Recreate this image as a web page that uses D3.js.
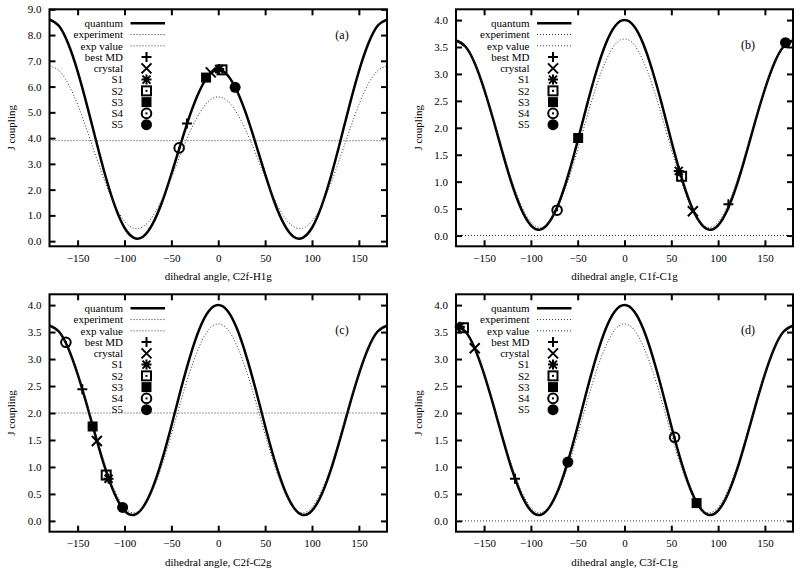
<!DOCTYPE html>
<html><head><meta charset="utf-8">
<script src="https://cdn.jsdelivr.net/npm/d3@7"></script>
<style>
body{margin:0;background:#fff}
svg{display:block}
text{font-family:"Liberation Serif","Times New Roman",serif;fill:#000}
</style>
</head><body>
<svg id="c" width="800" height="571"></svg>
<script>
// ---------- data ----------
const angles = [-180,-170,-160,-150,-140,-130,-120,-110,-100,-90,-80,-70,-60,-50,-40,-30,-20,-10,0,10,20,30,40,50,60,70,80,90,100,110,120,130,140,150,160,170,180];

const quantumA = [8.60,8.36,7.66,6.59,5.27,3.85,2.49,1.34,0.52,0.13,0.18,0.67,1.51,2.60,3.78,4.91,5.83,6.44,6.65,6.44,5.83,4.91,3.78,2.60,1.51,0.67,0.18,0.13,0.52,1.34,2.49,3.85,5.27,6.59,7.66,8.36,8.60];
const experimentA = [6.80,6.62,6.10,5.30,4.30,3.24,2.23,1.37,0.78,0.50,0.57,0.96,1.63,2.47,3.39,4.26,4.97,5.44,5.60,5.44,4.97,4.26,3.39,2.47,1.63,0.96,0.57,0.50,0.78,1.37,2.23,3.24,4.30,5.30,6.10,6.62,6.80];
const quantumBCD = [3.62,3.51,3.20,2.72,2.14,1.52,0.94,0.48,0.19,0.11,0.26,0.61,1.13,1.76,2.43,3.05,3.56,3.89,4.00,3.89,3.56,3.05,2.43,1.76,1.13,0.61,0.26,0.11,0.19,0.48,0.94,1.52,2.14,2.72,3.20,3.51,3.62];
const experimentBCD = [3.60,3.50,3.20,2.74,2.17,1.57,1.01,0.55,0.25,0.15,0.26,0.57,1.03,1.60,2.21,2.78,3.24,3.55,3.65,3.55,3.24,2.78,2.21,1.60,1.03,0.57,0.26,0.15,0.25,0.55,1.01,1.57,2.17,2.74,3.20,3.50,3.60];

const expValues = [3.9, 0.0, 2.0, 0.0];

// markers per panel (a, b, c, d): [angle, J]
const bestMD  = [[-33.4,4.57],[111,0.58],[-145,2.44],[-117,0.78]];
const crystal = [[-8,6.55],[73,0.45],[-129.5,1.48],[-160,3.2]];
const S1 = [[1,6.68],[58,1.2],[-117,0.78],[-176,3.6]];
const S2 = [[4,6.65],[61,1.1],[-119.5,0.85],[-172,3.58]];
const S3 = [[-13,6.35],[-49.5,1.81],[-134,1.75],[77,0.33]];
const S4 = [[-41.7,3.62],[-72,0.47],[-162.5,3.31],[53.5,1.55]];
const S5 = [[18,5.97],[172,3.58],[-102,0.25],[-60.5,1.09]];

const xTicks = [-150,-100,-50,0,50,100,150];
const yTicksA = [0,1,2,3,4,5,6,7,8,9];
const yTicksBCD = [0,0.5,1,1.5,2,2.5,3,3.5,4];
const xLabels = ["dihedral angle, C2f-H1g","dihedral angle, C1f-C1g","dihedral angle, C2f-C2g","dihedral angle, C3f-C1g"];
const panelTags = ["(a)","(b)","(c)","(d)"];
const legendNames = ["quantum","experiment","exp value","best MD","crystal","S1","S2","S3","S4","S5"];

// ---------- layout ----------
const svg = d3.select("#c");
const layout = [
  {x0:49.5, x1:387, y0:9.3, y1:246.3, yDom:[-0.2,9.0], yT:yTicksA, q:quantumA, e:experimentA, tag:[132,8.0]},
  {x0:456, x1:793, y0:9.3, y1:246.3, yDom:[-0.2,4.2], yT:yTicksBCD, q:quantumBCD, e:experimentBCD, tag:[132,3.55]},
  {x0:49.5, x1:387, y0:294.3, y1:531.7, yDom:[-0.2,4.2], yT:yTicksBCD, q:quantumBCD, e:experimentBCD, tag:[132,3.55]},
  {x0:456, x1:793, y0:294.3, y1:531.7, yDom:[-0.2,4.2], yT:yTicksBCD, q:quantumBCD, e:experimentBCD, tag:[132,3.55]}
];

const markerSeries = [
  {name:"plus", data:bestMD},
  {name:"cross", data:crystal},
  {name:"star", data:S1},
  {name:"osq", data:S2},
  {name:"fsq", data:S3},
  {name:"ocirc", data:S4},
  {name:"fcirc", data:S5}
];

function drawMarker(g, type, cx, cy){
  const s = 5;
  if(type==="plus"){
    g.append("path").attr("d",`M${cx-s},${cy}H${cx+s}M${cx},${cy-s}V${cy+s}`).attr("stroke","#000").attr("stroke-width",2).attr("fill","none");
  } else if(type==="cross"){
    g.append("path").attr("d",`M${cx-s},${cy-s}L${cx+s},${cy+s}M${cx-s},${cy+s}L${cx+s},${cy-s}`).attr("stroke","#000").attr("stroke-width",2).attr("fill","none");
  } else if(type==="star"){
    const t=4;
    g.append("path").attr("d",`M${cx-s},${cy}H${cx+s}M${cx},${cy-s}V${cy+s}M${cx-t},${cy-t}L${cx+t},${cy+t}M${cx-t},${cy+t}L${cx+t},${cy-t}`).attr("stroke","#000").attr("stroke-width",2).attr("fill","none");
  } else if(type==="osq"){
    g.append("rect").attr("x",cx-4.5).attr("y",cy-4.5).attr("width",9).attr("height",9).attr("fill","none").attr("stroke","#000").attr("stroke-width",2);
    g.append("rect").attr("x",cx-1).attr("y",cy-1).attr("width",2).attr("height",2).attr("fill","#000");
  } else if(type==="fsq"){
    g.append("rect").attr("x",cx-5).attr("y",cy-5).attr("width",10).attr("height",10).attr("fill","#000");
  } else if(type==="ocirc"){
    g.append("circle").attr("cx",cx).attr("cy",cy).attr("r",4.8).attr("fill","none").attr("stroke","#000").attr("stroke-width",2);
    g.append("rect").attr("x",cx-1).attr("y",cy-1).attr("width",2).attr("height",2).attr("fill","#000");
  } else if(type==="fcirc"){
    g.append("circle").attr("cx",cx).attr("cy",cy).attr("r",5.5).attr("fill","#000");
  }
}

layout.forEach((P, pi) => {
  const x = d3.scaleLinear().domain([-180,180]).range([P.x0,P.x1]);
  const y = d3.scaleLinear().domain(P.yDom).range([P.y1,P.y0]);
  const g = svg.append("g");
  const clipId = "clip"+pi;
  svg.append("clipPath").attr("id",clipId).append("rect")
    .attr("x",P.x0).attr("y",P.y0).attr("width",P.x1-P.x0).attr("height",P.y1-P.y0);

  const fmt = d3.format(".1f");
  // axes with inward ticks
  const ax = (gen, tx, ty) => {
    const a = g.append("g").attr("transform",`translate(${tx},${ty})`).call(gen);
    a.select(".domain").remove();
    a.selectAll("line").attr("stroke","#000").attr("stroke-width",2);
    a.selectAll("text").style("font-size","11px").attr("fill","#000");
    return a;
  };
  ax(d3.axisLeft(y).tickValues(P.yT).tickFormat(fmt).tickSizeInner(-6).tickSizeOuter(0).tickPadding(8), P.x0, 0);
  ax(d3.axisRight(y).tickValues(P.yT).tickFormat("").tickSizeInner(-6).tickSizeOuter(0), P.x1, 0);
  ax(d3.axisBottom(x).tickValues(xTicks).tickFormat(d3.format("d")).tickSizeInner(-6).tickSizeOuter(0).tickPadding(8), 0, P.y1);
  ax(d3.axisTop(x).tickValues(xTicks).tickFormat("").tickSizeInner(-6).tickSizeOuter(0), 0, P.y0);

  // frame
  g.append("rect").attr("x",P.x0).attr("y",P.y0).attr("width",P.x1-P.x0).attr("height",P.y1-P.y0)
    .attr("fill","none").attr("stroke","#000").attr("stroke-width",2);

  // axis labels
  g.append("text").attr("transform",`translate(${P.x0-38},${(P.y0+P.y1)/2}) rotate(-90)`)
    .attr("text-anchor","middle").attr("dy","0.35em").style("font-size","11px").text("J coupling");
  g.append("text").attr("x",(P.x0+P.x1)/2).attr("y",P.y1+34)
    .attr("text-anchor","middle").style("font-size","11px").text(xLabels[pi]);

  // curves
  const line = d3.line().x((d,i)=>x(angles[i])).y(d=>y(d)).curve(d3.curveNatural);
  const cg = g.append("g").attr("clip-path",`url(#${clipId})`);
  cg.append("path").attr("d",line(P.q)).attr("fill","none").attr("stroke","#000").attr("stroke-width",2.5);
  cg.append("path").attr("d",line(P.e)).attr("fill","none").attr("stroke","#333").attr("stroke-width",1).attr("stroke-dasharray","1,2");
  cg.append("line").attr("x1",P.x0).attr("x2",P.x1).attr("y1",y(expValues[pi])).attr("y2",y(expValues[pi]))
    .attr("stroke","#333").attr("stroke-width",1).attr("stroke-dasharray","1,2");

  // panel tag
  g.append("text").attr("x",x(P.tag[0])).attr("y",y(P.tag[1])).attr("dy","0.35em")
    .attr("text-anchor","middle").style("font-size","12px").text(panelTags[pi]);

  // legend
  const lg = g.append("g");
  legendNames.forEach((nm, i) => {
    const ly = P.y0 + 14 + i*11.26;
    lg.append("text").attr("x",P.x0+73.5).attr("y",ly).attr("dy","0.35em").attr("text-anchor","end")
      .style("font-size","11px").text(nm);
    if(i===0){
      lg.append("line").attr("x1",P.x0+81).attr("x2",P.x0+115.5).attr("y1",ly).attr("y2",ly)
        .attr("stroke","#000").attr("stroke-width",2.5);
    } else if(i<3){
      lg.append("line").attr("x1",P.x0+81).attr("x2",P.x0+115.5).attr("y1",ly).attr("y2",ly)
        .attr("stroke","#333").attr("stroke-width",1).attr("stroke-dasharray","1,2");
    } else {
      drawMarker(lg, markerSeries[i-3].name, P.x0+97, ly);
    }
  });

  // markers
  const mg = g.append("g");
  markerSeries.forEach(ms => {
    const d = ms.data[pi];
    drawMarker(mg, ms.name, x(d[0]), y(d[1]));
  });
});
</script>
</body></html>
